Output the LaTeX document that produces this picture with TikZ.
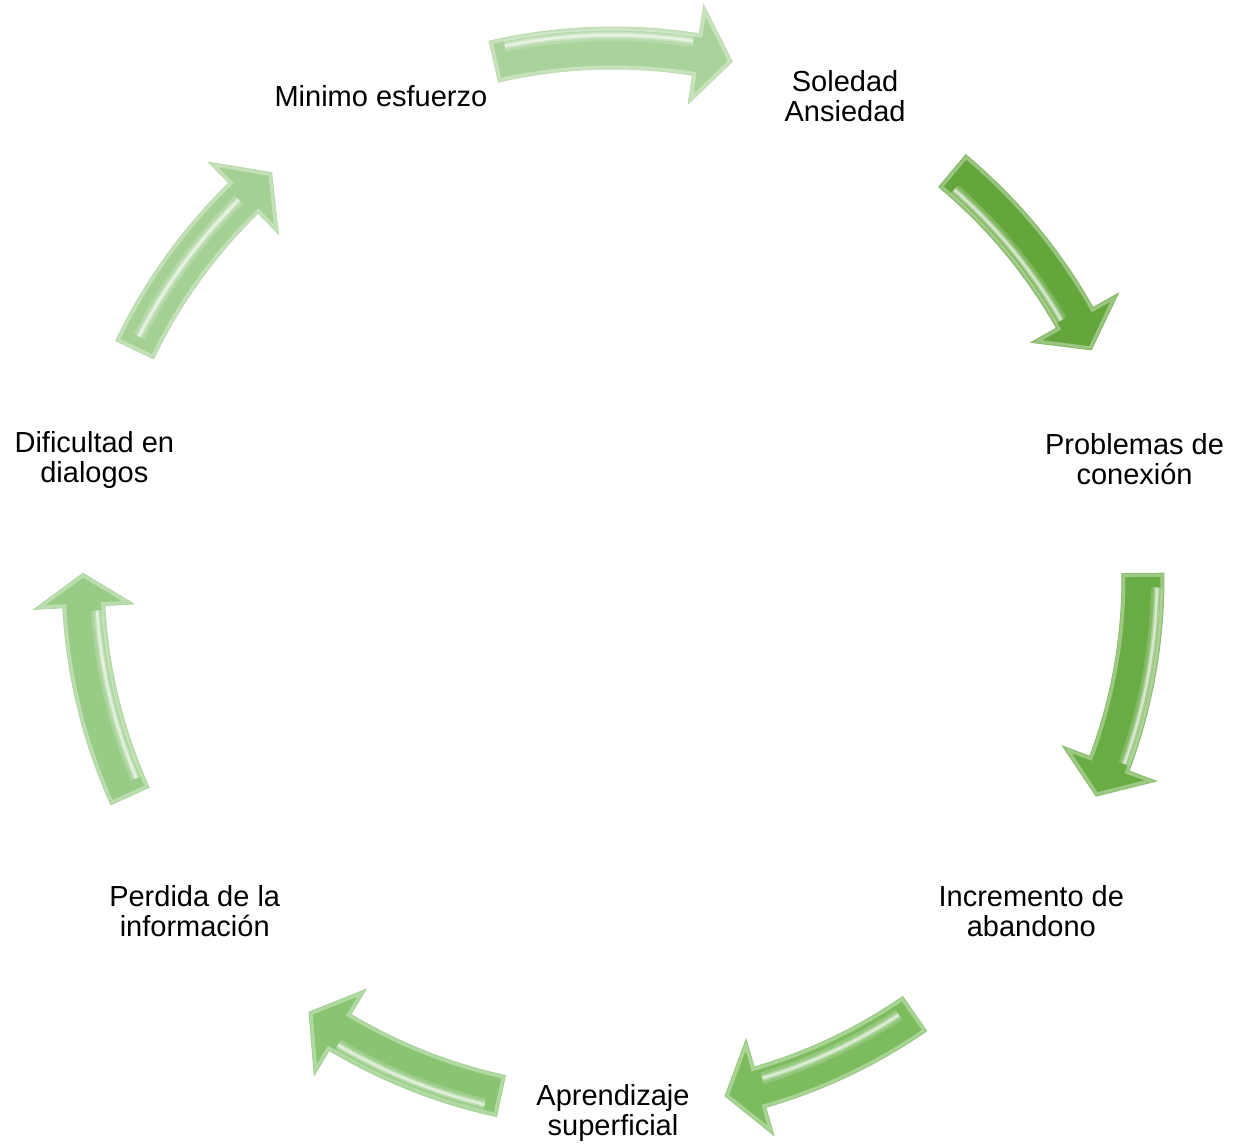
\documentclass[tikz,border=0pt]{standalone}
\usepackage{fontspec}
\setmainfont{Liberation Sans}
\definecolor{ca}{RGB}{170,211,155}
\definecolor{cb}{RGB}{100,166,60}
\definecolor{cc}{RGB}{106,172,68}
\definecolor{cd}{RGB}{124,187,94}
\definecolor{ce}{RGB}{137,196,115}
\definecolor{cf}{RGB}{152,203,134}
\definecolor{cg}{RGB}{164,208,148}
% #1 tail angle, #2 head-base angle, #3 tip angle, #4 path options
\newcommand\arrshape[4]{\path[#4] (#1:551) arc[start angle=#1,end angle=#2,radius=551] -- (#2:580) -- (#3:530) -- (#2:480) -- (#2:509) arc[start angle=#2,end angle=#1,radius=509] -- cycle;}
% #1 tail, #2 base, #3 tip, #4 colour, #5 highlight radius
\newcommand\cycarrow[5]{%
  \arrshape{#1}{#2}{#3}{fill=#4}
  \begin{scope}
    \arrshape{#1}{#2}{#3}{clip}
    \arrshape{#1}{#2}{#3}{draw=#4!65!white, line width=7, line join=miter}
    \draw[white, line width=12, opacity=.18] ({#1-1.5}:#5) arc[start angle={#1-1.5}, end angle={#2+0.5}, radius=#5];
    \draw[white, line width=6, opacity=.3] ({#1-1.5}:#5) arc[start angle={#1-1.5}, end angle={#2+0.5}, radius=#5];
    \draw[white, line width=2.5, opacity=.55] ({#1-1.5}:#5) arc[start angle={#1-1.5}, end angle={#2+0.5}, radius=#5];
  \end{scope}
  \arrshape{#1}{#2}{#3}{draw=#4!75!white, line width=1, line join=miter}
}
\tikzset{lbl/.style={font=\fontsize{29}{30}\selectfont, align=center, inner sep=0pt}}
\begin{document}
\begin{tikzpicture}[x=1pt,y=1pt]
\useasboundingbox (0,0) rectangle (1236,-1143);
\begin{scope}[shift={(613,-578)}]
  \cycarrow{103}{81}{77}{ca}{543}
  \cycarrow{50.2}{29.4}{25.5}{cb}{517}
  \cycarrow{0.5}{-20.5}{-24.3}{cc}{544}
  \cycarrow{-55.3}{-73.9}{-77.8}{cd}{522}
  \cycarrow{-102.2}{-121}{-125}{ce}{542}
  \cycarrow{204.3}{183.1}{179.5}{cf}{517}
  \cycarrow{154.5}{134.2}{130.1}{cg}{532}
  \node[lbl] (n1) at (115.71:535) {Minimo esfuerzo};
  \node[lbl] (n2) at (64.29:535) {Soledad\\Ansiedad};
  \node[lbl] (n3) at (12.86:535) {Problemas de\\conexión};
  \node[lbl] (n4) at (-38.57:535) {Incremento de\\abandono};
  \node[lbl] (n5) at (-90:535) {Aprendizaje\\superficial};
  \node[lbl] (n6) at (-141.43:535) {Perdida de la\\información};
  \node[lbl] (n7) at (167.14:532) {Dificultad en\\dialogos};
\end{scope}
\end{tikzpicture}
\end{document}
